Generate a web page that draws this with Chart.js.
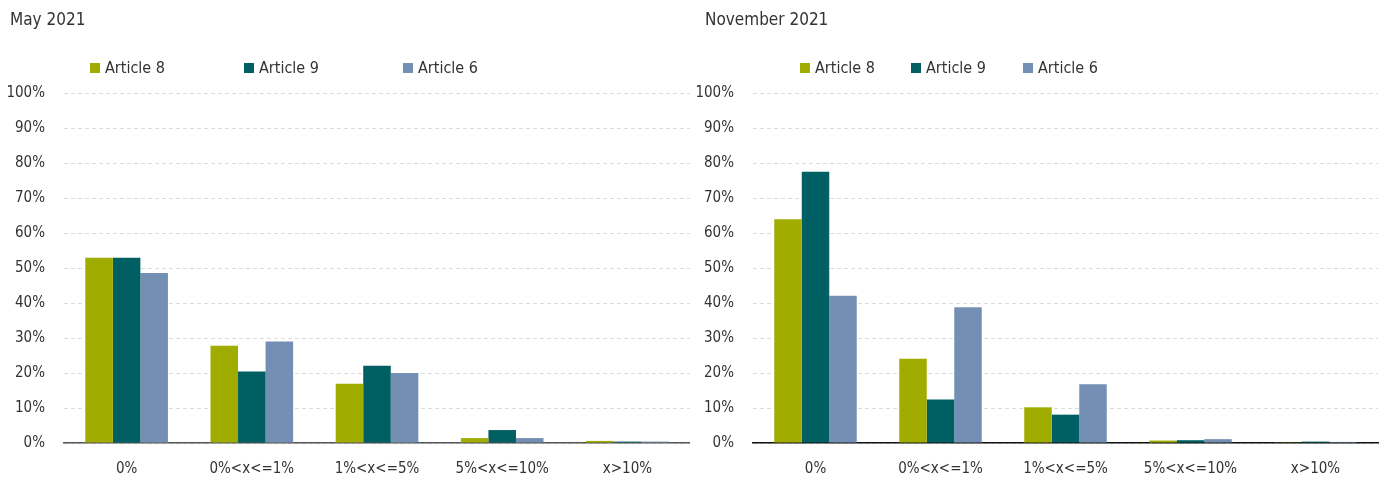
<!DOCTYPE html>
<html>
<head>
<meta charset="utf-8">
<script src="https://cdn.jsdelivr.net/npm/chart.js@4/dist/chart.umd.min.js"></script>
<style>
  html, body { margin:0; padding:0; background:#fff; }
  body { width:1380px; height:480px; position:relative; overflow:hidden;
         font-family:"DejaVu Sans Condensed","Liberation Sans Narrow",sans-serif; color:#333; }
  .panel { position:absolute; top:0; width:690px; height:480px; }
  .panel canvas { position:absolute; left:0; top:0; }
  .title { position:absolute; top:9px; font-size:17px; color:#333; white-space:nowrap; }
  .leg { position:absolute; top:58px; font-size:16px; color:#333; white-space:nowrap; display:flex; align-items:center; }
  .leg i { display:inline-block; width:10px; height:10px; margin-right:5px; }
</style>
</head>
<body>
<div class="panel" id="p0" style="left:0"><canvas id="c0" width="690" height="480"></canvas></div>
<div class="panel" id="p1" style="left:690px"><canvas id="c1" width="690" height="480"></canvas></div>
<script>
const categories = ["0%", "0%<x<=1%", "1%<x<=5%", "5%<x<=10%", "x>10%"];
const seriesNames = ["Article 8", "Article 9", "Article 6"];
const seriesColors = ["#A0AC00", "#005F62", "#738FB3"];
const panelTitles = ["May 2021", "November 2021"];

const may_article8 = [52.9, 27.8, 16.9, 1.4, 0.6];
const may_article9 = [52.9, 20.4, 22.1, 3.7, 0.4];
const may_article6 = [48.6, 29.0, 20.0, 1.4, 0.4];

const nov_article8 = [63.9, 24.1, 10.2, 0.7, 0.2];
const nov_article9 = [77.5, 12.4, 8.1, 0.8, 0.4];
const nov_article6 = [42.1, 38.8, 16.8, 1.1, 0.3];

const yTickMax = 100, yTickStep = 10;

const panels = [
  { data: [may_article8, may_article9, may_article6], titleX: 10, legX: [90, 244, 403] },
  { data: [nov_article8, nov_article9, nov_article6], titleX: 15, legX: [110, 221, 333] }
];

const FONT = "'DejaVu Sans Condensed','Liberation Sans Narrow',sans-serif";

panels.forEach((p, idx) => {
  const panel = document.getElementById('p' + idx);
  const t = document.createElement('div');
  t.className = 'title'; t.style.left = p.titleX + 'px'; t.textContent = panelTitles[idx];
  panel.appendChild(t);
  seriesNames.forEach((n, k) => {
    const l = document.createElement('div');
    l.className = 'leg'; l.style.left = p.legX[k] + 'px';
    l.innerHTML = '<i style="background:' + seriesColors[k] + '"></i>' + n;
    panel.appendChild(l);
  });

  new Chart(document.getElementById('c' + idx), {
    type: 'bar',
    data: {
      labels: categories,
      datasets: seriesNames.map((n, k) => ({
        label: n,
        data: p.data[k],
        backgroundColor: seriesColors[k],
        borderWidth: 0,
        categoryPercentage: 0.66,
        barPercentage: 1.0
      }))
    },
    options: {
      responsive: false,
      animation: false,
      devicePixelRatio: 1,
      layout: { padding: { top: 93, right: idx === 0 ? 0 : 2, bottom: 0, left: 0 } },
      plugins: { legend: { display: false }, title: { display: false }, tooltip: { enabled: false } },
      scales: {
        x: {
          grid: { display: false, drawTicks: false },
          border: { display: true, color: idx === 0 ? '#555' : '#111', width: 1.5 },
          ticks: { color: '#333', font: { family: FONT, size: 15 }, padding: 17, maxRotation: 0 },
          afterFit: (s) => { s.height = 37; }
        },
        y: {
          min: 0, max: yTickMax,
          grid: { color: '#dcdcdc', lineWidth: 1, drawTicks: false },
          border: { display: false, dash: [4, 3] },
          ticks: { stepSize: yTickStep, color: '#333', font: { family: FONT, size: 15 }, padding: 19,
                   callback: (v) => v + '%' },
          afterFit: (s) => { s.width = idx === 0 ? 64 : 63; }
        }
      }
    }
  });
});
</script>
</body>
</html>
